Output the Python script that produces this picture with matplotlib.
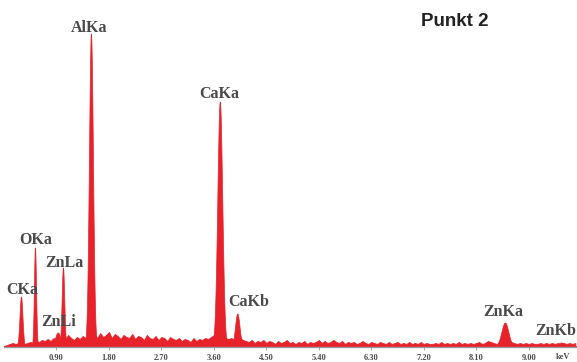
import numpy as np
import matplotlib
matplotlib.use("Agg")
import matplotlib.pyplot as plt

# ---- data (y in arbitrary counts) ----
peak_names = ["CKa", "OKa", "ZnLl", "ZnLa", "AlKa", "CaKa", "CaKb", "ZnKa", "ZnKb"]
peak_energy = [0.30, 0.54, 0.93, 1.02, 1.50, 3.71, 4.01, 8.60, 9.57]
peak_height = [50, 99, 14, 79, 313, 245, 33, 24, 4]
peak_sigma = [0.025, 0.018, 0.045, 0.022, 0.034, 0.042, 0.038, 0.06, 0.05]

label_text = ["AlKa", "CaKa", "OKa", "ZnLa", "CKa", "ZnLi", "CaKb", "ZnKa", "ZnKb"]
label_x = [1.46, 3.69, 0.55, 1.03, 0.31, 0.94, 4.19, 8.56, 9.47]
label_y = [319, 253, 107, 84, 57, 25, 45, 35, 16]

bg_start, bg_step = 0.0, 0.05
bg_counts = [
    1, 2, 3, 4, 3, 4, 5, 3, 4, 5,    # 0.00-0.45
    4, 6, 5, 7, 6, 8, 6, 9, 7, 8,    # 0.50-0.95
    10, 8, 12, 9, 7, 10, 8, 11, 9, 12,  # 1.00-1.45
    10, 13, 9, 14, 10, 12, 15, 9, 13, 11,  # 1.50-1.95
    8, 12, 10, 9, 13, 8, 11, 10, 7, 12,  # 2.00-2.45
    9, 8, 11, 7, 10, 9, 6, 10, 8, 7,  # 2.50-2.95
    9, 6, 8, 7, 5, 9, 6, 8, 7, 9,    # 3.00-3.45
    8, 10, 12, 14, 12, 10, 9, 8, 9, 7,  # 3.50-3.95
    8, 9, 7, 6, 5, 7, 4, 6, 5, 7,    # 4.00-4.45
    4, 6, 5, 3, 6, 4, 5, 7, 4, 5,    # 4.50-4.95
    3, 5, 4, 6, 3, 5, 4, 5, 7, 4,    # 5.00-5.45
    6, 4, 5, 7, 5, 4, 6, 3, 5, 4,    # 5.50-5.95
    5, 3, 4, 6, 4, 3, 5, 4, 3, 5,    # 6.00-6.45
    4, 3, 5, 3, 4, 5, 3, 4, 3, 5,    # 6.50-6.95
    3, 4, 3, 5, 3, 4, 3, 3, 4, 3,    # 7.00-7.45
    5, 3, 4, 3, 4, 3, 5, 3, 4, 3,    # 7.50-7.95
    4, 3, 4, 5, 3, 4, 6, 5, 4, 3,    # 8.00-8.45
    5, 4, 3, 4, 5, 4, 3, 4, 3, 4,    # 8.50-8.95
    3, 4, 3, 3, 4, 3, 4, 3, 4, 3,    # 9.00-9.45
    4, 3, 4, 3, 4, 3, 4,             # 9.50-9.80
]

tick_values = [0.90, 1.80, 2.70, 3.60, 4.50, 5.40, 6.30, 7.20, 8.10, 9.00]
tick_labels = ["0.90", "1.80", "2.70", "3.60", "4.50", "5.40", "6.30", "7.20", "8.10", "9.00"]
unit_label = "keV"
title_text = "Punkt 2"

# ---- figure ----
W, H = 577, 362
fig = plt.figure(figsize=(W / 100, H / 100), dpi=100)
ax = fig.add_axes([4 / W, 15 / H, (W - 4) / W, 337 / H])
ax.set_xlim(0, (W - 4) / 58.3)
ax.set_ylim(0, 337)

red = "#e8222a"
bg_x = bg_start + bg_step * np.arange(len(bg_counts))
ax.fill_between(bg_x, 0, bg_counts, color=red, lw=0.6, edgecolor=red)

xf = np.linspace(0, 9.9, 6000)
for e, h, s in zip(peak_energy, peak_height, peak_sigma):
    y = h * np.exp(-0.5 * ((xf - e) / s) ** 2)
    ax.fill_between(xf, 0, y, color=red, lw=0.5, edgecolor=red)

for t, x, y in zip(label_text, label_x, label_y):
    ax.text(x, y, t, ha="center", va="center", fontsize=11.5, fontweight="bold",
            family="Liberation Serif", color="#4a4a4a")

fig.text(455 / W, 1 - 22 / H, title_text, ha="center", va="center", fontsize=13.5,
         fontweight="bold", family="Liberation Sans", color="#222222")

for s in ["top", "right", "left"]:
    ax.spines[s].set_visible(False)
ax.spines["bottom"].set_color("#9a9a9a")
ax.spines["bottom"].set_linewidth(1.0)
ax.set_yticks([])
ax.set_xticks(tick_values)
ax.set_xticklabels(tick_labels, fontsize=6, fontweight="bold", family="Liberation Serif",
                   color="#4a4a4a")
ax.tick_params(axis="x", length=2.5, width=0.6, color="#9a9a9a", pad=2.5)
ax.text((563 - 4) / 58.3, -10, unit_label, ha="center", va="center", fontsize=6,
        fontweight="bold", family="Liberation Serif", color="#4a4a4a", clip_on=False)

fig.savefig("out.png", dpi=100, facecolor="white")
